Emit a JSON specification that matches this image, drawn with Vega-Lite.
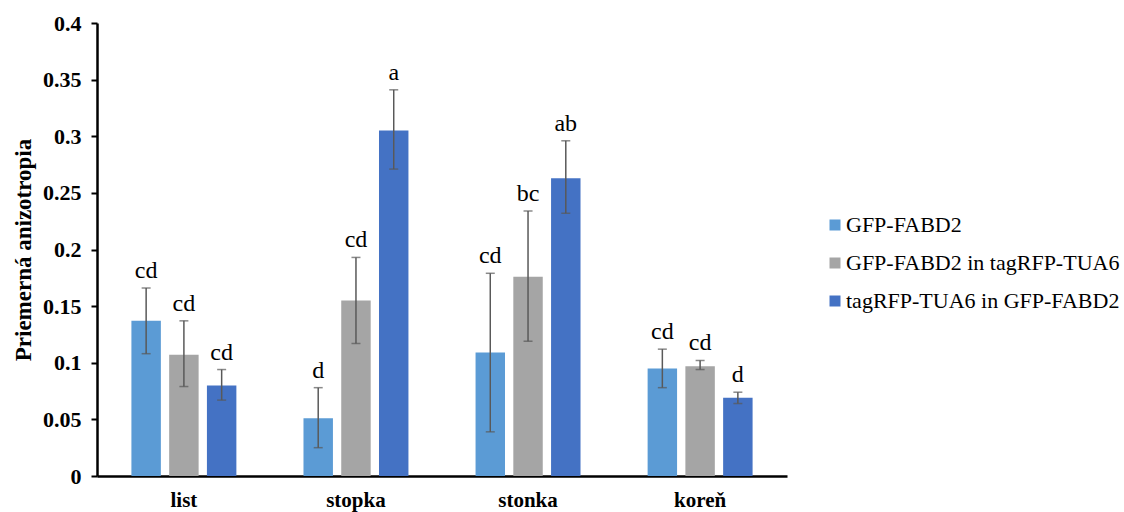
{
  "$schema": "https://vega.github.io/schema/vega-lite/v6.json",
  "autosize": "none",
  "width": 690,
  "height": 453,
  "padding": {"left": 97, "top": 23, "right": 337, "bottom": 36},
  "background": "white",
  "config": {
    "view": {"stroke": null},
    "font": "'Liberation Serif', 'Times New Roman', Times, serif",
    "axis": {"grid": false}
  },
  "data": {"values": [
    {"cat": "list", "series": "GFP-FABD2", "value": 0.137, "lo": 0.108, "hi": 0.166, "label": "cd"},
    {"cat": "list", "series": "GFP-FABD2 in tagRFP-TUA6", "value": 0.107, "lo": 0.079, "hi": 0.137, "label": "cd"},
    {"cat": "list", "series": "tagRFP-TUA6 in GFP-FABD2", "value": 0.080, "lo": 0.067, "hi": 0.094, "label": "cd"},
    {"cat": "stopka", "series": "GFP-FABD2", "value": 0.051, "lo": 0.025, "hi": 0.078, "label": "d"},
    {"cat": "stopka", "series": "GFP-FABD2 in tagRFP-TUA6", "value": 0.155, "lo": 0.117, "hi": 0.193, "label": "cd"},
    {"cat": "stopka", "series": "tagRFP-TUA6 in GFP-FABD2", "value": 0.305, "lo": 0.271, "hi": 0.341, "label": "a"},
    {"cat": "stonka", "series": "GFP-FABD2", "value": 0.109, "lo": 0.039, "hi": 0.179, "label": "cd"},
    {"cat": "stonka", "series": "GFP-FABD2 in tagRFP-TUA6", "value": 0.176, "lo": 0.119, "hi": 0.234, "label": "bc"},
    {"cat": "stonka", "series": "tagRFP-TUA6 in GFP-FABD2", "value": 0.263, "lo": 0.232, "hi": 0.296, "label": "ab"},
    {"cat": "koreň", "series": "GFP-FABD2", "value": 0.095, "lo": 0.078, "hi": 0.112, "label": "cd"},
    {"cat": "koreň", "series": "GFP-FABD2 in tagRFP-TUA6", "value": 0.097, "lo": 0.094, "hi": 0.102, "label": "cd"},
    {"cat": "koreň", "series": "tagRFP-TUA6 in GFP-FABD2", "value": 0.069, "lo": 0.064, "hi": 0.074, "label": "d"}
  ]},
  "encoding": {
    "x": {
      "field": "cat", "type": "nominal", "sort": ["list", "stopka", "stonka", "koreň"],
      "scale": {"paddingInner": 0.39, "paddingOuter": 0.2},
      "axis": {
        "title": null, "labelAngle": 0, "labelFont": "'Liberation Serif', 'Times New Roman', serif", "labelFontWeight": "bold",
        "labelFontSize": 21, "labelColor": "black", "labelPadding": 13,
        "domainColor": "black", "domainWidth": 2.5, "ticks": false
      }
    },
    "xOffset": {
      "field": "series", "type": "nominal",
      "sort": ["GFP-FABD2", "GFP-FABD2 in tagRFP-TUA6", "tagRFP-TUA6 in GFP-FABD2"],
      "scale": {"paddingInner": 0.22}
    }
  },
  "layer": [
    {
      "mark": {"type": "bar"},
      "encoding": {
        "y": {
          "field": "value", "type": "quantitative",
          "scale": {"domain": [0, 0.4], "nice": false},
          "axis": {
            "title": "Priemerná anizotropia", "titleFont": "'Liberation Serif', 'Times New Roman', serif", "titleFontSize": 23,
            "titleFontWeight": "bold", "titleColor": "black", "titlePadding": 7,
            "values": [0, 0.05, 0.1, 0.15, 0.2, 0.25, 0.3, 0.35, 0.4],
            "labelFont": "'Liberation Serif', 'Times New Roman', serif", "labelFontWeight": "bold", "labelFontSize": 22,
            "labelColor": "black", "labelPadding": 10, "labelExpr": "datum.value == 0 ? '0' : format(datum.value, '.3~f')",
            "domainColor": "black", "domainWidth": 2.5, "tickColor": "black", "tickWidth": 2, "tickSize": 6
          }
        },
        "color": {
          "field": "series", "type": "nominal",
          "sort": ["GFP-FABD2", "GFP-FABD2 in tagRFP-TUA6", "tagRFP-TUA6 in GFP-FABD2"],
          "scale": {"range": ["#5B9BD5", "#A5A5A5", "#4472C4"]},
          "legend": {
            "title": null, "orient": "none", "legendX": 727, "legendY": 191,
            "symbolType": "square", "symbolSize": 121, "symbolStrokeWidth": 0,
            "labelFont": "'Liberation Serif', 'Times New Roman', serif", "labelFontSize": 22, "labelColor": "black", "labelLimit": 0,
            "rowPadding": 16, "labelOffset": 0
          }
        }
      }
    },
    {
      "mark": {"type": "rule", "color": "#595959", "strokeWidth": 1.5},
      "encoding": {
        "y": {"field": "lo", "type": "quantitative"},
        "y2": {"field": "hi"}
      }
    },
    {
      "mark": {"type": "tick", "color": "#595959", "thickness": 1.5, "size": 9, "orient": "horizontal"},
      "encoding": {"y": {"field": "lo", "type": "quantitative"}}
    },
    {
      "mark": {"type": "tick", "color": "#595959", "thickness": 1.5, "size": 9, "orient": "horizontal"},
      "encoding": {"y": {"field": "hi", "type": "quantitative"}}
    },
    {
      "mark": {"type": "text", "baseline": "alphabetic", "dy": -10, "fontSize": 24, "font": "'Liberation Serif', 'Times New Roman', serif", "color": "black"},
      "encoding": {
        "y": {"field": "hi", "type": "quantitative"},
        "text": {"field": "label"}
      }
    }
  ]
}
